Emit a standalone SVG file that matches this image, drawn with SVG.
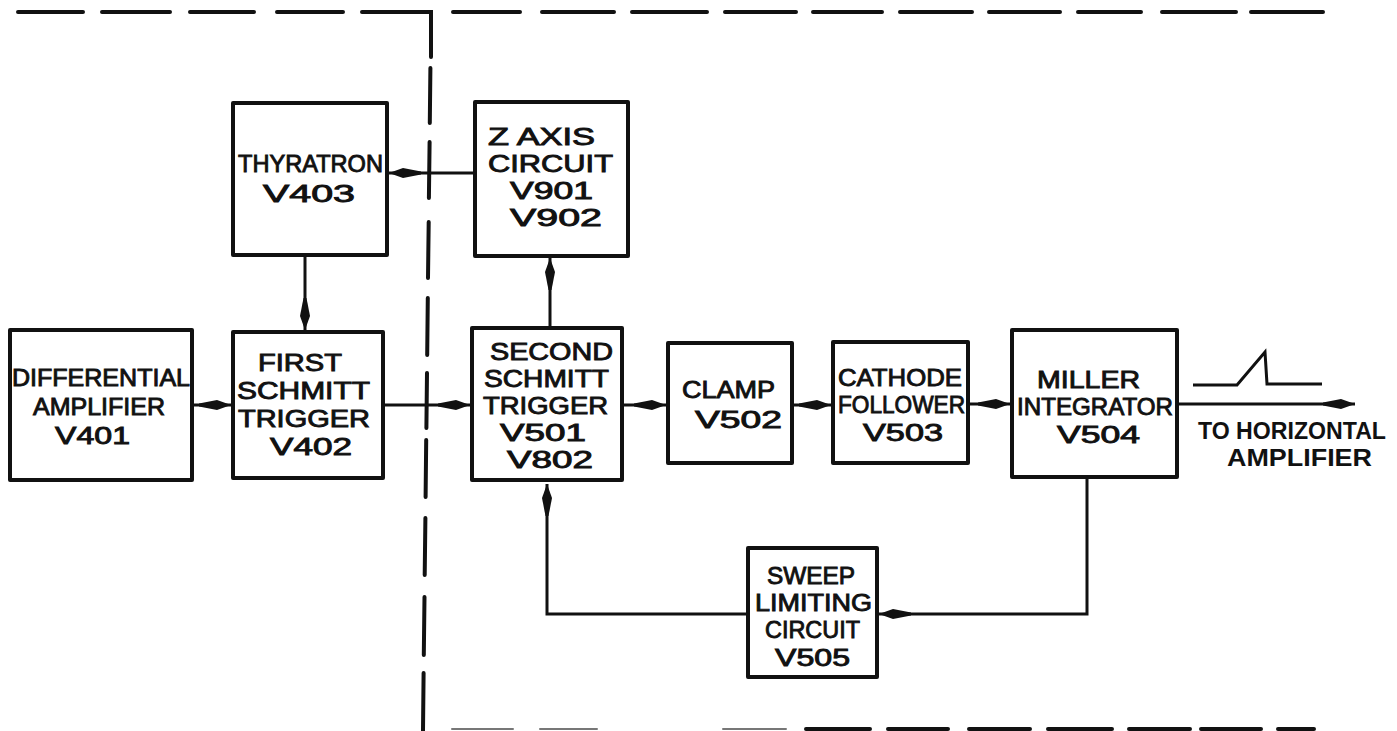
<svg xmlns="http://www.w3.org/2000/svg" width="1397" height="731" viewBox="0 0 1397 731">
<style>
.box{fill:#fff;stroke:#111;stroke-width:4;stroke-linejoin:round}
.t{font-family:"Liberation Sans",Arial,sans-serif;font-size:24px;fill:#111;stroke:#111;stroke-width:0.9}
.tb{font-family:"Liberation Sans",Arial,sans-serif;font-size:23px;font-weight:bold;fill:#111}
.con{fill:none;stroke:#111;stroke-width:3}
.dash{fill:none;stroke:#111;stroke-width:4;stroke-linecap:round}
.faint{fill:none;stroke:#777;stroke-width:2;stroke-linecap:round}
</style>
<defs>
<marker id="ah" markerUnits="userSpaceOnUse" markerWidth="40" markerHeight="16" viewBox="-34 -8 36 16" refX="0" refY="0" orient="auto">
<path d="M0,0 L-14,-5 L-32,-1.5 L-32,1.5 L-14,5 Z" fill="#111"/>
</marker>
</defs>
<rect width="1397" height="731" fill="#fff"/>
<g id="frame">
<path class="dash" d="M18,12H83 M102,12H170 M190,12H254 M277,12H343 M362,12H431V57 M453,12H520 M542,12H614 M632,12H707 M725,12H796 M813,12H882 M900,12H972 M989,12H1060 M1078,12H1141 M1162,12H1236 M1251,12H1323"/>
<path class="dash" d="M430.4,68L429.8,123 M429.6,142L428.9,198 M428.7,222L428,278 M427.8,298L427.2,355 M427,373L426.4,428 M426.2,440L425.6,497 M425.4,518L424.7,575 M424.5,597L423.8,655 M423.6,673L423,731"/>
<path class="faint" d="M452,729H513 M540,729H597 M723,729H786"/>
<path class="dash" d="M806,729H870 M888,729H948 M969,729H1030 M1048,729H1112 M1129,729H1190 M1201,729H1261 M1278,729H1314"/>
</g>
<g id="connectors">
<path class="con" d="M475,173H389" marker-end="url(#ah)"/>
<path class="con" d="M305,255V330" marker-end="url(#ah)"/>
<path class="con" d="M192,405H231" marker-end="url(#ah)"/>
<path class="con" d="M383,405H470" marker-end="url(#ah)"/>
<path class="con" d="M550,328V258" marker-end="url(#ah)"/>
<path class="con" d="M622,405H666" marker-end="url(#ah)"/>
<path class="con" d="M792,405H831" marker-end="url(#ah)"/>
<path class="con" d="M968,404H1010" marker-end="url(#ah)"/>
<path class="con" d="M1177,404H1355" marker-end="url(#ah)"/>
<path class="con" d="M1087,477V614H879" marker-end="url(#ah)"/>
<path class="con" d="M748,614H547V484" marker-end="url(#ah)"/>
<polyline class="con" points="1193,385 1237,385 1265,352 1267,384 1322,384"/>
</g>
<g id="thyratron">
<rect class="box" x="233" y="103" width="154" height="152"/>
<text class="t" x="238" y="172" textLength="145" lengthAdjust="spacingAndGlyphs">THYRATRON</text>
<text class="t" x="263" y="202" textLength="92" lengthAdjust="spacingAndGlyphs">V403</text>
</g>
<g id="zaxis">
<rect class="box" x="475" y="102" width="153" height="154"/>
<text class="t" x="488" y="145" textLength="107" lengthAdjust="spacingAndGlyphs">Z AXIS</text>
<text class="t" x="488" y="172" textLength="125" lengthAdjust="spacingAndGlyphs">CIRCUIT</text>
<text class="t" x="510" y="199" textLength="83" lengthAdjust="spacingAndGlyphs">V901</text>
<text class="t" x="510" y="226" textLength="92" lengthAdjust="spacingAndGlyphs">V902</text>
</g>
<g id="diffamp">
<rect class="box" x="10" y="330" width="182" height="150"/>
<text class="t" x="12" y="386" textLength="178" lengthAdjust="spacingAndGlyphs">DIFFERENTIAL</text>
<text class="t" x="33" y="415" textLength="132" lengthAdjust="spacingAndGlyphs">AMPLIFIER</text>
<text class="t" x="55" y="444" textLength="75" lengthAdjust="spacingAndGlyphs">V401</text>
</g>
<g id="first">
<rect class="box" x="233" y="332" width="150" height="146"/>
<text class="t" x="258" y="371" textLength="84" lengthAdjust="spacingAndGlyphs">FIRST</text>
<text class="t" x="237" y="399" textLength="133" lengthAdjust="spacingAndGlyphs">SCHMITT</text>
<text class="t" x="238" y="427" textLength="132" lengthAdjust="spacingAndGlyphs">TRIGGER</text>
<text class="t" x="270" y="455" textLength="82" lengthAdjust="spacingAndGlyphs">V402</text>
</g>
<g id="second">
<rect class="box" x="472" y="328" width="150" height="152"/>
<text class="t" x="490" y="360" textLength="123" lengthAdjust="spacingAndGlyphs">SECOND</text>
<text class="t" x="484" y="387" textLength="125" lengthAdjust="spacingAndGlyphs">SCHMITT</text>
<text class="t" x="483" y="414" textLength="125" lengthAdjust="spacingAndGlyphs">TRIGGER</text>
<text class="t" x="500" y="441" textLength="86" lengthAdjust="spacingAndGlyphs">V501</text>
<text class="t" x="507" y="468" textLength="86" lengthAdjust="spacingAndGlyphs">V802</text>
</g>
<g id="clamp">
<rect class="box" x="668" y="343" width="124" height="120"/>
<text class="t" x="682" y="398" textLength="93" lengthAdjust="spacingAndGlyphs">CLAMP</text>
<text class="t" x="695" y="428" textLength="87" lengthAdjust="spacingAndGlyphs">V502</text>
</g>
<g id="cathode">
<rect class="box" x="833" y="342" width="135" height="121"/>
<text class="t" x="838" y="386" textLength="124" lengthAdjust="spacingAndGlyphs">CATHODE</text>
<text class="t" x="838" y="413" textLength="127" lengthAdjust="spacingAndGlyphs">FOLLOWER</text>
<text class="t" x="863" y="441" textLength="80" lengthAdjust="spacingAndGlyphs">V503</text>
</g>
<g id="miller">
<rect class="box" x="1012" y="330" width="165" height="147"/>
<text class="t" x="1037" y="388" textLength="103" lengthAdjust="spacingAndGlyphs">MILLER</text>
<text class="t" x="1017" y="415" textLength="156" lengthAdjust="spacingAndGlyphs">INTEGRATOR</text>
<text class="t" x="1057" y="443" textLength="83" lengthAdjust="spacingAndGlyphs">V504</text>
</g>
<g id="sweep">
<rect class="box" x="748" y="548" width="129" height="129"/>
<text class="t" x="767" y="584" textLength="88" lengthAdjust="spacingAndGlyphs">SWEEP</text>
<text class="t" x="755" y="611" textLength="117" lengthAdjust="spacingAndGlyphs">LIMITING</text>
<text class="t" x="765" y="638" textLength="95" lengthAdjust="spacingAndGlyphs">CIRCUIT</text>
<text class="t" x="775" y="666" textLength="75" lengthAdjust="spacingAndGlyphs">V505</text>
</g>
<g id="output">
<text class="tb" x="1198" y="439" textLength="188" lengthAdjust="spacingAndGlyphs">TO HORIZONTAL</text>
<text class="tb" x="1227" y="466" textLength="145" lengthAdjust="spacingAndGlyphs">AMPLIFIER</text>
</g>
</svg>
